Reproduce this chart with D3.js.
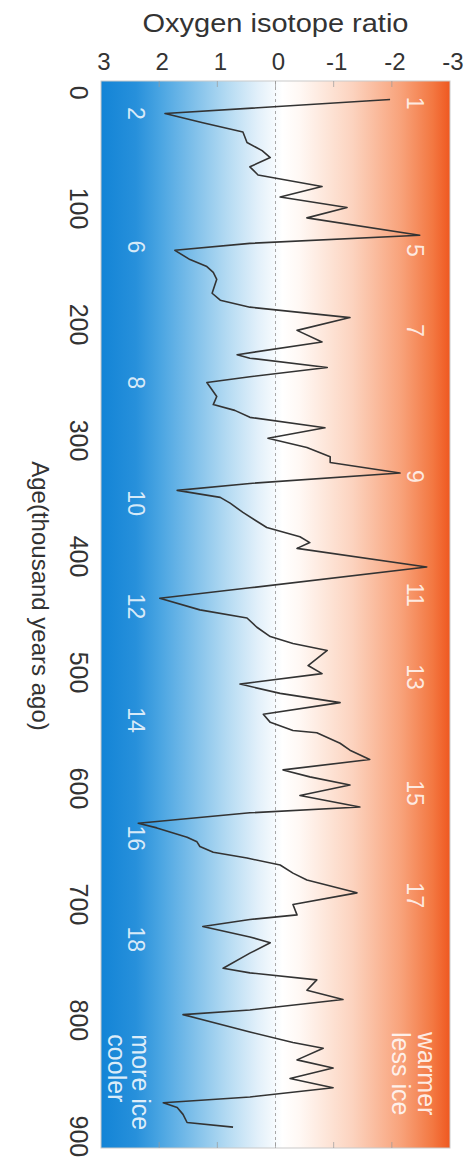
<!DOCTYPE html>
<html>
<head>
<meta charset="utf-8">
<script src="https://cdn.jsdelivr.net/npm/d3@7"></script>
<style>
  html, body { margin: 0; padding: 0; background: #fff; }
  svg { display: block; }
  text { font-family: "Liberation Sans", Arial, Helvetica, sans-serif; }
</style>
</head>
<body>
<svg id="chart" width="473" height="1164"></svg>
<script>
// Benthic oxygen isotope record, age in thousand years before present
const ageKyr = [
  6, 18, 26, 34, 43, 50, 56, 64, 71, 81,
  90, 99, 108, 123, 130, 136, 144, 150, 155, 161,
  173, 179, 185, 194, 205, 215, 226, 229, 237, 245,
  250, 262, 269, 274, 280, 289, 298, 306, 314, 319,
  328, 337, 343, 349, 354, 362, 375, 383, 388, 393,
  409, 427, 436, 446, 453, 461, 469, 475, 481, 494,
  501, 510, 518, 526, 536, 543, 550, 552, 561, 567,
  575, 584, 590, 597, 606, 616, 621, 630, 634, 642,
  646, 650, 655, 660, 666, 673, 679, 690, 700, 709,
  713, 719, 728, 733, 742, 755, 759, 765, 774, 782,
  791, 795, 810, 819, 824, 834, 841, 850, 858, 866,
  871, 875, 881, 888, 892
];
const isotopeRatio = [
  -1.97, 1.90, 1.25, 0.56, 0.49, 0.23, 0.09, 0.44, 0.30, -0.80,
  -0.08, -1.23, -0.54, -2.48, 0.44, 1.73, 1.47, 1.18, 1.07, 1.01,
  1.09, 0.95, 0.44, -1.28, -0.37, -0.80, 0.66, 0.44, -0.89, 0.44,
  1.18, 1.01, 1.07, 0.70, 0.44, -0.85, 0.13, -0.54, -0.94, -0.94,
  -2.14, 0.44, 1.69, 0.95, 0.78, 0.56, 0.15, -0.42, -0.59, -0.37,
  -2.60, 0.44, 1.99, 1.30, 0.49, 0.32, 0.09, -0.30, -0.89, -0.56,
  -0.80, 0.61, -0.08, -1.11, 0.21, 0.09, -0.30, -0.71, -1.11, -1.28,
  -1.62, -0.13, -0.59, -1.28, -0.42, -1.45, 0.44, 2.36, 2.04, 1.52,
  1.35, 1.30, 1.07, 0.49, -0.08, -0.30, -0.54, -1.40, -0.30, -0.37,
  0.44, 1.25, 0.44, 0.09, 0.44, 0.90, 0.44, -0.71, -0.54, -1.16,
  0.44, 1.59, 0.44, -0.30, -0.82, -0.37, -0.99, -0.25, -0.99, 0.44,
  1.93, 1.69, 1.59, 1.52, 0.73
];

const ratioTicks = [3, 2, 1, 0, -1, -2, -3];
const ageTicks = [0, 100, 200, 300, 400, 500, 600, 700, 800, 900];

// Marine isotope stages: odd = warm interglacials, even = cold glacials
const stageNumbers = [1, 2, 5, 6, 7, 8, 9, 10, 11, 12, 13, 14, 15, 16, 17, 18];
const stageAges    = [9, 18, 136, 133, 205, 250, 331, 354, 433, 443, 504, 541, 604, 643, 692, 730];

const coldNote = ["more ice", "cooler"];
const warmNote = ["warmer", "less ice"];

const titleText = "Oxygen isotope ratio";
const ageTitle = "Age(thousand years ago)";

const svg = d3.select("#chart");
const plot = { left: 101, right: 450, top: 81, bottom: 1148 };

const x = d3.scaleLinear().domain([3, -3]).range([plot.left, plot.right]);
const y = d3.scaleLinear().domain([-10, 910]).range([plot.top, plot.bottom]);

// cold-to-warm background ramp
const defs = svg.append("defs");
const grad = defs.append("linearGradient")
  .attr("id", "ramp").attr("x1", "0").attr("x2", "1").attr("y1", "0").attr("y2", "0");
[
  [0.00, "#1384d6"], [0.10, "#2790db"], [0.17, "#4aa5e2"], [0.36, "#b3daf2"],
  [0.45, "#e2f0fa"], [0.52, "#ffffff"], [0.57, "#fff8f4"], [0.66, "#fde2d4"],
  [0.72, "#fcd3bf"], [0.86, "#f8a27a"], [0.95, "#f37842"], [1.00, "#ef5820"]
].forEach(([o, c]) => grad.append("stop").attr("offset", o).attr("stop-color", c));

svg.append("rect")
  .attr("x", plot.left).attr("y", plot.top)
  .attr("width", plot.right - plot.left).attr("height", plot.bottom - plot.top)
  .attr("fill", "url(#ramp)")
  .attr("stroke", "#c9c9c9").attr("stroke-width", 1);

// zero reference line
svg.append("line")
  .attr("x1", x(0)).attr("x2", x(0))
  .attr("y1", plot.top).attr("y2", plot.bottom)
  .attr("stroke", "#a8a8a8").attr("stroke-width", 1)
  .attr("stroke-dasharray", "3,3");

// inner tick marks on top and bottom edges
const innerTicks = ratioTicks.filter(t => Math.abs(t) < 3);
svg.append("g").selectAll("line.top").data(innerTicks).join("line")
  .attr("x1", d => x(d)).attr("x2", d => x(d))
  .attr("y1", plot.top).attr("y2", plot.top + 6)
  .attr("stroke", "#9a9a9a").attr("stroke-opacity", 0.7);
svg.append("g").selectAll("line.bot").data(innerTicks).join("line")
  .attr("x1", d => x(d)).attr("x2", d => x(d))
  .attr("y1", plot.bottom - 6).attr("y2", plot.bottom)
  .attr("stroke", "#9a9a9a").attr("stroke-opacity", 0.7);

// stage numbers
svg.append("g").selectAll("text").data(stageNumbers).join("text")
  .attr("transform", (d, i) => `translate(${x(d % 2 ? -2.4 : 2.4)},${y(stageAges[i])}) rotate(90)`)
  .attr("text-anchor", "middle").attr("dominant-baseline", "central")
  .attr("font-size", 23).attr("fill", "#ffffff").attr("fill-opacity", 0.82)
  .text(d => d);

// isotope curve
const series = ageKyr.map((a, i) => ({ age: a, v: isotopeRatio[i] }));
svg.append("path")
  .datum(series)
  .attr("fill", "none")
  .attr("stroke", "#333")
  .attr("stroke-width", 1.6)
  .attr("stroke-linejoin", "round")
  .attr("d", d3.line().x(d => x(d.v)).y(d => y(d.age)));

// corner notes, reading down the lower edge of each colour band
svg.append("g").selectAll("text").data(coldNote).join("text")
  .attr("transform", (d, i) => `translate(${x(2.46) - i * 24},${y(812)}) rotate(90)`)
  .attr("font-size", 25).attr("fill", "#ffffff").attr("fill-opacity", 0.85)
  .text(d => d);
svg.append("g").selectAll("text").data(warmNote).join("text")
  .attr("transform", (d, i) => `translate(${x(-2.45) - i * 26},${y(810)}) rotate(90)`)
  .attr("font-size", 25).attr("fill", "#ffffff").attr("fill-opacity", 0.85)
  .text(d => d);

// top axis labels
svg.append("g").selectAll("text").data(ratioTicks).join("text")
  .attr("x", d => x(d) + 3).attr("y", 70)
  .attr("text-anchor", "middle")
  .attr("font-size", 24).attr("fill", "#333")
  .text(d => String(d));

svg.append("text")
  .attr("x", x(0)).attr("y", 32)
  .attr("text-anchor", "middle")
  .attr("font-size", 25).attr("fill", "#333")
  .attr("textLength", 266).attr("lengthAdjust", "spacingAndGlyphs")
  .text(titleText);

// age axis labels
svg.append("g").selectAll("text").data(ageTicks).join("text")
  .attr("transform", d => `translate(79,${y(d)}) rotate(90)`)
  .attr("text-anchor", "middle").attr("dominant-baseline", "central")
  .attr("font-size", 25).attr("fill", "#333")
  .text(d => d);

svg.append("text")
  .attr("transform", `translate(40,596) rotate(90)`)
  .attr("text-anchor", "middle").attr("dominant-baseline", "central")
  .attr("font-size", 24).attr("fill", "#333")
  .text(ageTitle);
</script>
</body>
</html>
